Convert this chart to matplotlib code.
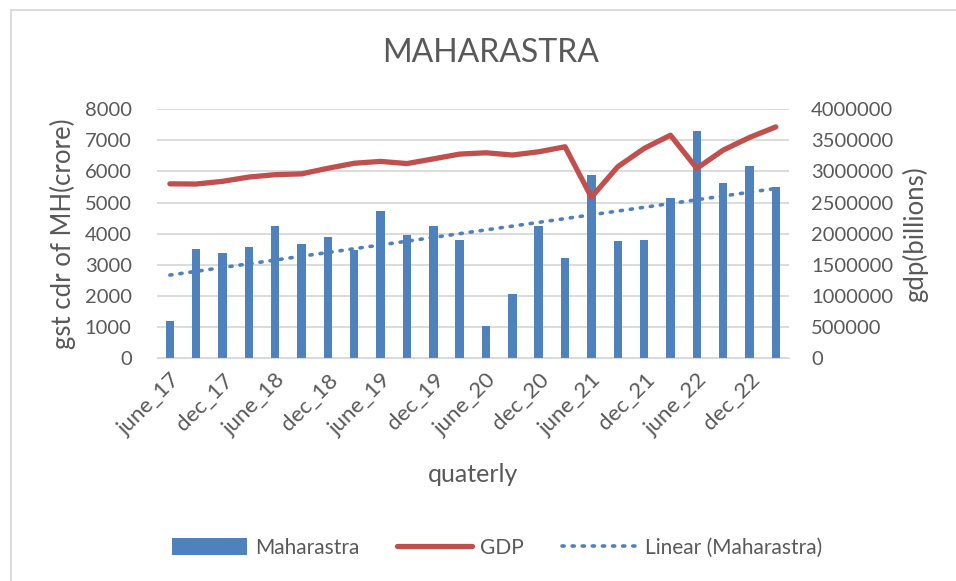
import numpy as np
import matplotlib
matplotlib.use("Agg")
import matplotlib.pyplot as plt
from matplotlib.lines import Line2D
from matplotlib.patches import Patch

plt.rcParams['font.family'] = ['Lato', 'DejaVu Sans']

# quarters, june_17 .. march_23
quarters = ['june_17', 'sept_17', 'dec_17', 'march_18',
            'june_18', 'sept_18', 'dec_18', 'march_19',
            'june_19', 'sept_19', 'dec_19', 'march_20',
            'june_20', 'sept_20', 'dec_20', 'march_21',
            'june_21', 'sept_21', 'dec_21', 'march_22',
            'june_22', 'sept_22', 'dec_22', 'march_23']

# gst collection of maharastra (crore)
gst_mh = [1210, 3510, 3385, 3565, 4255, 3685, 3905, 3480,
          4715, 3945, 4255, 3805, 1050, 2060, 4250, 3230,
          5890, 3760, 3810, 5130, 7300, 5640, 6170, 5510]

# gdp (billions)
gdp = [2800000, 2797000, 2840000, 2909000, 2947000, 2960000, 3050000, 3130000,
       3160000, 3125000, 3200000, 3277000, 3298000, 3262000, 3314000, 3394000,
       2585000, 3074000, 3367000, 3580000, 3048000, 3340000, 3543000, 3713000]

grey = '#595959'
bar_color = '#4f81bd'
line_color = '#c0504d'

x = np.arange(len(quarters))
slope, icpt = np.polyfit(x, gst_mh, 1)
trend = slope * x + icpt

fig = plt.figure(figsize=(9.56, 5.81), dpi=100)
ax = fig.add_axes([0.1639, 0.383, 0.6614, 0.4294])
ax2 = ax.twinx()

ax.bar(x, gst_mh, width=0.32, color=bar_color, zorder=2)
ax.plot(x, trend, color=bar_color, linestyle=(0, (0.6, 2.2)), linewidth=2.6,
        dash_capstyle='round', zorder=3)
ax2.plot(x, gdp, color=line_color, linewidth=3.8, solid_capstyle='round', zorder=4)

ax.set_xlim(-0.5, len(quarters) - 0.5)
ax.set_ylim(0, 8000)
ax.set_yticks(range(0, 8001, 1000))
ax2.set_ylim(0, 4000000)
ax2.set_yticks(range(0, 4000001, 500000))
ax2.set_yticklabels([str(v) for v in range(0, 4000001, 500000)])

ax.set_xticks(x[::2])
ax.set_xticklabels(quarters[::2], rotation=45, ha='right', rotation_mode='anchor')

ax.grid(axis='y', color='#d9d9d9', linewidth=1.3, zorder=0)
ax.set_axisbelow(True)
for a in (ax, ax2):
    for s in a.spines.values():
        s.set_visible(False)
    a.tick_params(length=0, colors=grey, labelsize=14.5)
ax.spines['bottom'].set_visible(True)
ax.spines['bottom'].set_color('#d9d9d9')
ax.tick_params(axis='y', pad=18)
ax2.tick_params(axis='y', pad=16)
ax.tick_params(axis='x', pad=8, labelsize=16)

ax.set_ylabel('gst cdr of MH(crore)', color=grey, fontsize=18.5, labelpad=6)
ax2.set_ylabel('gdp(billions)', color=grey, fontsize=18.5, labelpad=6)
ax.set_xlabel('quaterly', color=grey, fontsize=18, labelpad=17)

fig.text(0.513, 0.908, 'MAHARASTRA', ha='center', va='center', color=grey, fontsize=23)

handles = [Patch(facecolor=bar_color),
           Line2D([], [], color=line_color, linewidth=3.8, solid_capstyle='round'),
           Line2D([], [], color=bar_color, linestyle=(0, (0.6, 2.2)), linewidth=2.6,
                  dash_capstyle='round')]
fig.legend(handles, ['Maharastra', 'GDP', 'Linear (Maharastra)'],
           loc='center', bbox_to_anchor=(0.52, 0.057), ncol=3, frameon=False,
           fontsize=15, labelcolor=grey, handlelength=3.6, handleheight=0.9,
           handletextpad=0.4, columnspacing=1.8)

# chart area border (top and left visible)
fig.add_artist(Line2D([0.0115, 1.0], [0.982, 0.982], color='#d9d9d9', linewidth=1.3))
fig.add_artist(Line2D([0.0115, 0.0115], [0.0, 0.982], color='#d9d9d9', linewidth=1.3))

fig.savefig('out.png', dpi=100)
